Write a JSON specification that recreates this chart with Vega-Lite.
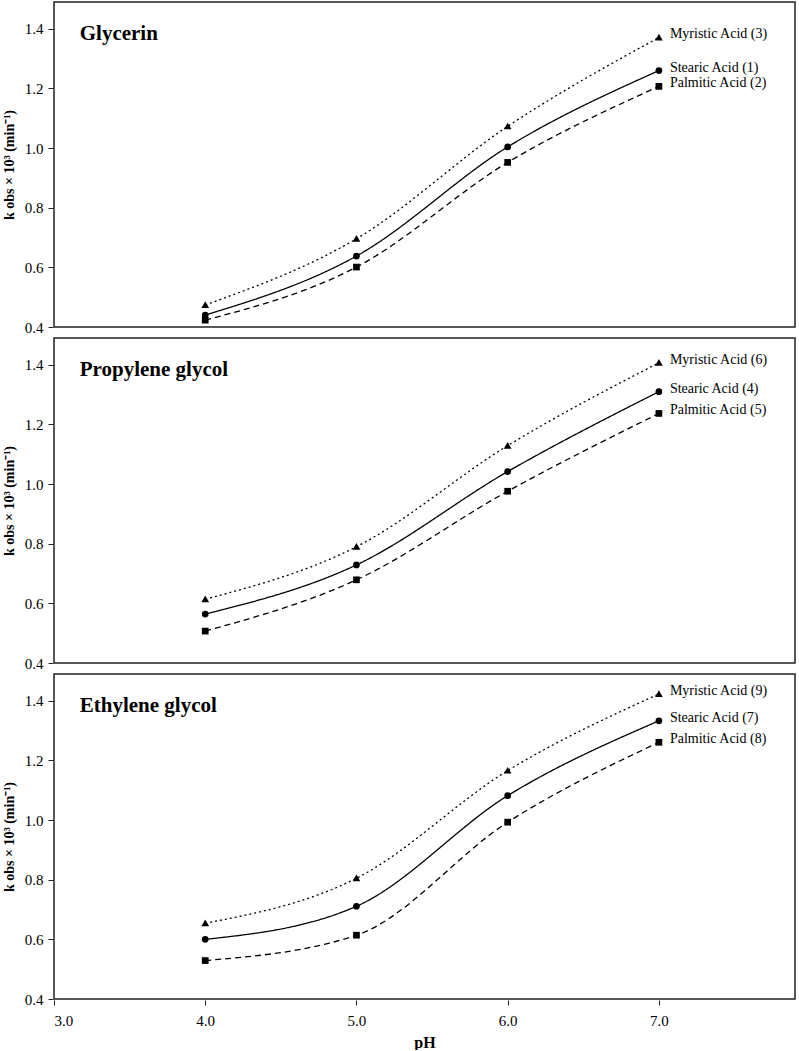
{
  "$schema": "https://vega.github.io/schema/vega-lite/v6.json",
  "padding": {"left": 2, "top": 1, "right": 0, "bottom": 0},
  "background": "white",
  "config": {
    "font": "Liberation Serif",
    "view": {"stroke": "#222", "strokeWidth": 1.5},
    "axis": {"labelFont": "Liberation Serif", "titleFont": "Liberation Serif", "labelColor": "#000", "titleColor": "#000", "domainColor": "#222", "tickColor": "#222", "grid": false, "labelFontSize": 15, "titleFontSize": 14, "titleFontWeight": "bold"},
    "facet": {"spacing": 9}
  },
  "data": {"values": [
    {"solvent": "Glycerin", "acid": "Myristic Acid", "label": "Myristic Acid (3)", "pH": 4, "k": 0.474},
    {"solvent": "Glycerin", "acid": "Myristic Acid", "label": "Myristic Acid (3)", "pH": 5, "k": 0.696},
    {"solvent": "Glycerin", "acid": "Myristic Acid", "label": "Myristic Acid (3)", "pH": 6, "k": 1.073},
    {"solvent": "Glycerin", "acid": "Myristic Acid", "label": "Myristic Acid (3)", "pH": 7, "k": 1.371},
    {"solvent": "Glycerin", "acid": "Stearic Acid", "label": "Stearic Acid (1)", "pH": 4, "k": 0.44},
    {"solvent": "Glycerin", "acid": "Stearic Acid", "label": "Stearic Acid (1)", "pH": 5, "k": 0.638},
    {"solvent": "Glycerin", "acid": "Stearic Acid", "label": "Stearic Acid (1)", "pH": 6, "k": 1.004},
    {"solvent": "Glycerin", "acid": "Stearic Acid", "label": "Stearic Acid (1)", "pH": 7, "k": 1.26},
    {"solvent": "Glycerin", "acid": "Palmitic Acid", "label": "Palmitic Acid (2)", "pH": 4, "k": 0.423},
    {"solvent": "Glycerin", "acid": "Palmitic Acid", "label": "Palmitic Acid (2)", "pH": 5, "k": 0.601},
    {"solvent": "Glycerin", "acid": "Palmitic Acid", "label": "Palmitic Acid (2)", "pH": 6, "k": 0.952},
    {"solvent": "Glycerin", "acid": "Palmitic Acid", "label": "Palmitic Acid (2)", "pH": 7, "k": 1.207},
    {"solvent": "Propylene glycol", "acid": "Myristic Acid", "label": "Myristic Acid (6)", "pH": 4, "k": 0.614},
    {"solvent": "Propylene glycol", "acid": "Myristic Acid", "label": "Myristic Acid (6)", "pH": 5, "k": 0.79},
    {"solvent": "Propylene glycol", "acid": "Myristic Acid", "label": "Myristic Acid (6)", "pH": 6, "k": 1.129},
    {"solvent": "Propylene glycol", "acid": "Myristic Acid", "label": "Myristic Acid (6)", "pH": 7, "k": 1.407},
    {"solvent": "Propylene glycol", "acid": "Stearic Acid", "label": "Stearic Acid (4)", "pH": 4, "k": 0.564},
    {"solvent": "Propylene glycol", "acid": "Stearic Acid", "label": "Stearic Acid (4)", "pH": 5, "k": 0.729},
    {"solvent": "Propylene glycol", "acid": "Stearic Acid", "label": "Stearic Acid (4)", "pH": 6, "k": 1.042},
    {"solvent": "Propylene glycol", "acid": "Stearic Acid", "label": "Stearic Acid (4)", "pH": 7, "k": 1.31},
    {"solvent": "Propylene glycol", "acid": "Palmitic Acid", "label": "Palmitic Acid (5)", "pH": 4, "k": 0.507},
    {"solvent": "Propylene glycol", "acid": "Palmitic Acid", "label": "Palmitic Acid (5)", "pH": 5, "k": 0.679},
    {"solvent": "Propylene glycol", "acid": "Palmitic Acid", "label": "Palmitic Acid (5)", "pH": 6, "k": 0.976},
    {"solvent": "Propylene glycol", "acid": "Palmitic Acid", "label": "Palmitic Acid (5)", "pH": 7, "k": 1.237},
    {"solvent": "Ethylene glycol", "acid": "Myristic Acid", "label": "Myristic Acid (9)", "pH": 4, "k": 0.654},
    {"solvent": "Ethylene glycol", "acid": "Myristic Acid", "label": "Myristic Acid (9)", "pH": 5, "k": 0.805},
    {"solvent": "Ethylene glycol", "acid": "Myristic Acid", "label": "Myristic Acid (9)", "pH": 6, "k": 1.166},
    {"solvent": "Ethylene glycol", "acid": "Myristic Acid", "label": "Myristic Acid (9)", "pH": 7, "k": 1.423},
    {"solvent": "Ethylene glycol", "acid": "Stearic Acid", "label": "Stearic Acid (7)", "pH": 4, "k": 0.6},
    {"solvent": "Ethylene glycol", "acid": "Stearic Acid", "label": "Stearic Acid (7)", "pH": 5, "k": 0.711},
    {"solvent": "Ethylene glycol", "acid": "Stearic Acid", "label": "Stearic Acid (7)", "pH": 6, "k": 1.082},
    {"solvent": "Ethylene glycol", "acid": "Stearic Acid", "label": "Stearic Acid (7)", "pH": 7, "k": 1.333},
    {"solvent": "Ethylene glycol", "acid": "Palmitic Acid", "label": "Palmitic Acid (8)", "pH": 4, "k": 0.529},
    {"solvent": "Ethylene glycol", "acid": "Palmitic Acid", "label": "Palmitic Acid (8)", "pH": 5, "k": 0.614},
    {"solvent": "Ethylene glycol", "acid": "Palmitic Acid", "label": "Palmitic Acid (8)", "pH": 6, "k": 0.993},
    {"solvent": "Ethylene glycol", "acid": "Palmitic Acid", "label": "Palmitic Acid (8)", "pH": 7, "k": 1.261}
  ]},
  "facet": {
    "row": {"field": "solvent", "type": "nominal", "sort": ["Glycerin", "Propylene glycol", "Ethylene glycol"], "header": {"title": null, "labels": false}}
  },
  "spec": {
    "width": 741,
    "height": 325,
    "encoding": {
      "x": {"field": "pH", "type": "quantitative", "scale": {"domain": [3, 7.9], "nice": false, "zero": false},
        "axis": {"values": [3, 4, 5, 6, 7], "format": ".1f", "title": "pH", "titleFontSize": 16, "tickSize": 5, "labelPadding": 8, "titlePadding": 6, "labelFontSize": 15, "domain": false}},
      "y": {"field": "k", "type": "quantitative", "scale": {"domain": [0.4, 1.49], "nice": false, "zero": false},
        "axis": {"values": [0.4, 0.6, 0.8, 1.0, 1.2, 1.4], "format": ".1f", "title": "k obs × 10³ (min⁻¹)", "tickSize": 5, "labelPadding": 5, "titlePadding": 8, "domain": false}}
    },
    "layer": [
      {
        "mark": {"type": "line", "color": "#000", "strokeWidth": 1.3, "interpolate": "monotone"},
        "encoding": {
          "detail": {"field": "acid"},
          "strokeDash": {"field": "acid", "type": "nominal", "legend": null,
            "scale": {"domain": ["Myristic Acid", "Stearic Acid", "Palmitic Acid"], "range": [[2, 3], [1, 0], [6, 4]]}}
        }
      },
      {
        "mark": {"type": "point", "filled": true, "color": "#000", "opacity": 1, "size": 45},
        "encoding": {
          "shape": {"field": "acid", "type": "nominal", "legend": null,
            "scale": {"domain": ["Myristic Acid", "Stearic Acid", "Palmitic Acid"], "range": ["M0,-1.1L1.15,0.9L-1.15,0.9Z", "circle", "square"]}}
        }
      },
      {
        "transform": [{"filter": "datum.pH == 7"}],
        "mark": {"type": "text", "align": "left", "baseline": "middle", "dx": 11, "dy": -3, "font": "Liberation Serif", "fontSize": 14, "color": "#000"},
        "encoding": {"text": {"field": "label"}}
      },
      {
        "transform": [{"filter": "datum.pH == 4 && datum.acid == 'Stearic Acid'"}],
        "mark": {"type": "text", "align": "left", "baseline": "middle", "font": "Liberation Serif", "fontSize": 21, "fontWeight": "bold", "color": "#000"},
        "encoding": {
          "x": {"datum": 3.17},
          "y": {"datum": 1.382},
          "text": {"field": "solvent"}
        }
      }
    ]
  }
}
